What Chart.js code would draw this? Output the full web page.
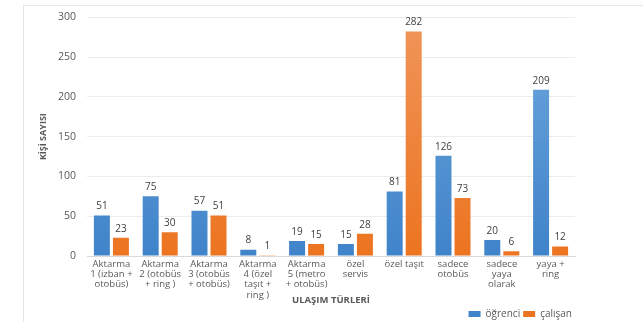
<html>
<head>
<script src="https://cdn.jsdelivr.net/npm/chart.js"></script>
<style>
  body { margin: 0; background: #fff; }
  #wrap { position: relative; width: 643px; height: 322px; }
</style>
</head>
<body>
<div id="wrap"><canvas id="ulasim" width="643" height="322"></canvas></div>

<script>
// ulaşım türü kategorileri (çok satırlı etiketler)
const categories = [
  ['Aktarma', '1 (izban +', 'otobüs)'],
  ['Aktarma', '2 (otobüs', '+ ring )'],
  ['Aktarma', '3 (otobüs', '+ otobüs)'],
  ['Aktarma', '4 (özel', 'taşıt +', 'ring )'],
  ['Aktarma', '5 (metro', '+ otobüs)'],
  ['özel', 'servis'],
  ['özel taşıt'],
  ['sadece', 'otobüs'],
  ['sadece', 'yaya', 'olarak'],
  ['yaya +', 'ring']
];
const ogrenci = [51, 75, 57, 8, 19, 15, 81, 126, 20, 209];
const calisan = [23, 30, 51, 1, 15, 28, 282, 73, 6, 12];
const yTicks = [0, 50, 100, 150, 200, 250, 300];

const FONT = '"Open Sans", "Liberation Sans", sans-serif';
const TEXT = '#595959';

function gradient(ctx, top, bottom) {
  const area = ctx.chart.chartArea;
  if (!area) return bottom;
  const g = ctx.chart.ctx.createLinearGradient(0, area.top, 0, area.bottom);
  g.addColorStop(0, top);
  g.addColorStop(1, bottom);
  return g;
}

// değer etiketleri çubukların üstüne
const valueLabels = {
  id: 'valueLabels',
  afterDatasetsDraw(chart) {
    const ctx = chart.ctx;
    ctx.save();
    ctx.font = '10px ' + FONT;
    ctx.fillStyle = '#404040';
    ctx.textAlign = 'center';
    ctx.textBaseline = 'bottom';
    chart.data.datasets.forEach((ds, i) => {
      chart.getDatasetMeta(i).data.forEach((bar, j) => {
        ctx.fillText(ds.data[j], bar.x, bar.y - 4);
      });
    });
    ctx.restore();
  }
};

// grafik çerçevesi
const frame = {
  id: 'frame',
  beforeDraw(chart) {
    const ctx = chart.ctx;
    ctx.save();
    ctx.strokeStyle = '#e6e6e6';
    ctx.lineWidth = 1;
    ctx.strokeRect(23.5, 5.5, 640, 330);
    ctx.restore();
  }
};

new Chart(document.getElementById('ulasim'), {
  type: 'bar',
  data: {
    labels: categories,
    datasets: [
      {
        label: 'öğrenci',
        data: ogrenci,
        backgroundColor: ctx => gradient(ctx, '#6fa8dd', '#3f83c9')
      },
      {
        label: 'çalışan',
        data: calisan,
        backgroundColor: ctx => gradient(ctx, '#f0955a', '#ec7420')
      }
    ]
  },
  options: {
    responsive: false,
    animation: false,
    layout: { padding: { left: 25, right: 68, top: 1, bottom: 0 } },
    datasets: { bar: { categoryPercentage: 0.78, barPercentage: 0.84 } },
    scales: {
      x: {
        afterFit: axis => { axis.height = 50; },
        grid: { display: false, drawTicks: false },
        border: { color: '#d9d9d9' },
        ticks: {
          color: TEXT, font: { family: FONT, size: 9.5, lineHeight: 1.08 },
          padding: 3, maxRotation: 0, autoSkip: false
        },
        title: {
          display: true, text: 'ULAŞIM TÜRLERİ', color: TEXT,
          font: { family: FONT, size: 9.5, weight: 'bold' },
          padding: { top: 0, bottom: 0 }
        }
      },
      y: {
        min: 0, max: 300,
        afterBuildTicks: axis => { axis.ticks = yTicks.map(v => ({ value: v })); },
        afterFit: axis => { axis.width = 62; },
        grid: { color: '#ececec', drawTicks: false },
        border: { display: false },
        ticks: { color: TEXT, font: { family: FONT, size: 10.5 }, padding: 11 },
        title: {
          display: true, text: 'KİŞİ SAYISI', color: TEXT,
          font: { family: FONT, size: 9, weight: 'bold' },
          padding: { top: 13, bottom: 0 }
        }
      }
    },
    plugins: {
      legend: {
        position: 'bottom', align: 'end', maxHeight: 16,
        labels: {
          color: TEXT, font: { family: FONT, size: 10 },
          boxWidth: 12, boxHeight: 6, padding: 3
        }
      },
      tooltip: { enabled: false }
    }
  },
  plugins: [valueLabels, frame]
});
</script>
</body>
</html>
